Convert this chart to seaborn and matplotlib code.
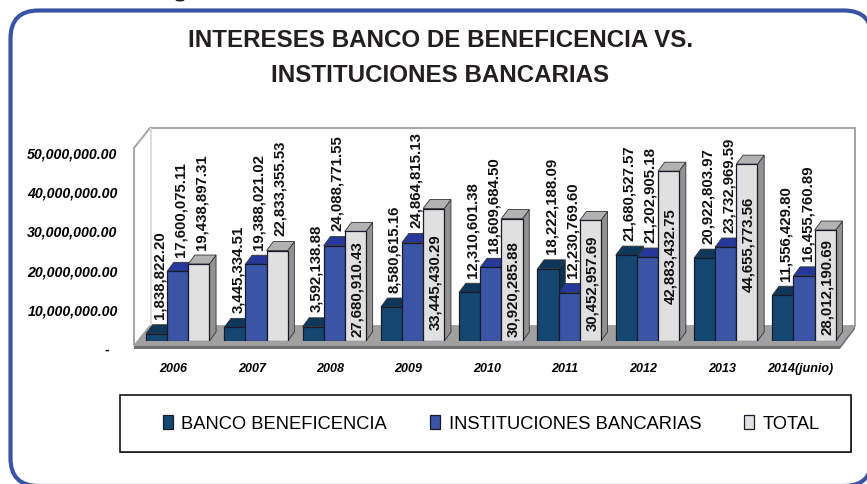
import pandas as pd
import seaborn as sns
import matplotlib
matplotlib.use("Agg")
import matplotlib.pyplot as plt
from matplotlib.patches import Ellipse, FancyBboxPatch, Polygon, Rectangle
from matplotlib.ticker import FuncFormatter
from matplotlib.transforms import ScaledTranslation

W, H = 867, 484

years = ["2006", "2007", "2008", "2009", "2010", "2011", "2012", "2013", "2014(junio)"]
banco = [1838822.20, 3445334.51, 3592138.88, 8580615.16, 12310601.38,
         18222188.09, 21680527.57, 20922803.97, 11556429.80]
instituciones = [17600075.11, 19388021.02, 24088771.55, 24864815.13, 18609684.50,
                 12230769.60, 21202905.18, 23732969.59, 16455760.89]
total = [19438897.31, 22833355.53, 27680910.43, 33445430.29, 30920285.88,
         30452957.69, 42883432.75, 44655773.56, 28012190.69]
series_names = ["BANCO BENEFICENCIA", "INSTITUCIONES BANCARIAS", "TOTAL"]

# colores: frente, tapa, costado
colors = ["#14476F", "#3A55A5", "#E0E0E0"]
top_colors = ["#0F3759", "#26399A", "#B2B2B2"]
side_colors = ["#0C3050", "#2A3E8F", "#929292"]

df = pd.DataFrame({
    "year": years * 3,
    "serie": [s for s in series_names for _ in years],
    "valor": banco + instituciones + total,
})

# el total va dentro de la barra desde 2008, levantado estos pixeles de la base
inside_lift = {2: 4, 3: 11, 4: 4, 5: 10, 6: 37, 7: 49, 8: 6}
DX, DY = 6.7, 9

plt.rcParams["font.family"] = ["Liberation Sans", "DejaVu Sans"]


def box(x0, y0, x1, y1):
    return [x0 / W, 1 - y1 / H, (x1 - x0) / W, (y1 - y0) / H]


fig = plt.figure(figsize=(W / 100, H / 100), dpi=100)

# capa de fondo en pixeles
bg = fig.add_axes([0, 0, 1, 1], zorder=0)
bg.set_xlim(0, W)
bg.set_ylim(H, 0)
bg.axis("off")

bg.add_patch(FancyBboxPatch((10.5, 10.5), 861.5, 475.5, boxstyle="round,pad=0,rounding_size=28",
                            fc="white", ec="#3A53A4", lw=3))
bg.add_patch(Ellipse((180, 0), 9, 3, fc="#231F20", ec="none"))

bg.add_patch(Polygon([(134, 148), (150, 128), (855, 128), (855, 326), (150, 326), (134, 346)],
                     fc="white", ec="#A4A4A4", lw=1.4))
bg.add_patch(Rectangle((150, 128), 2, 198, fc="#DCDCDC", ec="none"))
bg.add_patch(Polygon([(134, 346), (150, 326), (855, 326), (840, 346)], fc="#A0A0A0", ec="none"))
bg.add_patch(Rectangle((134, 346), 706, 3, fc="#6E6E6E", ec="none"))
bg.add_patch(Polygon([(840, 346), (855, 326), (855, 329), (840, 349)], fc="#6E6E6E", ec="none"))

# barras (cara frontal)
ax = fig.add_axes(box(138.5, 123, 843.2, 341), zorder=1)
ax.patch.set_alpha(0)
sns.barplot(data=df, x="year", y="valor", hue="serie", palette=colors, width=0.81, gap=0,
            saturation=1, edgecolor="#1A1A2A", linewidth=0.9, ax=ax)
ax.set_xlim(-0.5, 8.5)
ax.set_ylim(0, 55050000)
ax.set_xlabel("")
ax.set_ylabel("")
ax.set_yticks([])
sns.despine(ax=ax, left=True, bottom=True)
ax.tick_params(axis="x", length=0, pad=15.5)
shift = ScaledTranslation(-4 / 100, 0, fig.dpi_scale_trans)
for lab in ax.get_xticklabels():
    lab.set_fontweight("bold")
    lab.set_fontstyle("italic")
    lab.set_fontsize(9)
    lab.set_transform(lab.get_transform() + shift)

fig.canvas.draw()
to_px = lambda x, y: (ax.transData.transform((x, y))[0],
                      H - ax.transData.transform((x, y))[1])

# caras 3D y etiquetas a partir de las barras
for s, cont in enumerate(ax.containers):
    for i, bar in enumerate(cont):
        x0, ytop = to_px(bar.get_x(), bar.get_height())
        x1, ybase = to_px(bar.get_x() + bar.get_width(), 0)
        bg.add_patch(Polygon([(x1, ytop), (x1 + DX, ytop - DY), (x1 + DX, ybase - DY), (x1, ybase)],
                             fc=side_colors[s], ec="#333333", lw=0.6, zorder=3 + s))
        bg.add_patch(Polygon([(x0, ytop), (x0 + DX, ytop - DY), (x1 + DX, ytop - DY), (x1, ytop)],
                             fc=top_colors[s], ec="#333333", lw=0.6, zorder=3 + s))
        txt = f"{bar.get_height():,.2f}"
        if s == 2 and i in inside_lift:
            lx = (x0 + x1) / 2 + 1.5
            ly = ybase - inside_lift[i]
        else:
            lx = (x0 + x1) / 2 + 3
            ly = ytop - DY - 5.5
        fig.text(lx / W, 1 - ly / H, txt, rotation=90, ha="center", va="bottom", fontsize=10.8,
                 fontweight="bold", color="#111111", zorder=5)

# eje y del plano frontal
yax = fig.add_axes(box(138.5, 153, 843.2, 349), zorder=1)
yax.patch.set_alpha(0)
yax.set_ylim(0, 50000000)
yax.set_xticks([])
yax.set_yticks(range(0, 50000001, 10000000))
yax.yaxis.set_major_formatter(FuncFormatter(lambda v, p: f"{v:,.2f}" if v else "-  "))
yax.tick_params(axis="y", length=0, pad=15)
sns.despine(ax=yax, left=True, bottom=True)
for lab in yax.get_yticklabels():
    lab.set_fontweight("bold")
    lab.set_fontstyle("italic")
    lab.set_fontsize(10.2)

fig.text(440.5 / W, 1 - 58 / H, "INTERESES BANCO DE BENEFICENCIA VS.\nINSTITUCIONES BANCARIAS",
         ha="center", va="center", fontsize=17.4, fontweight="bold", color="#231F20",
         linespacing=1.72, zorder=5)

# leyenda: caja aparte, la leyenda solo lleva las entradas
bg.add_patch(Rectangle((120.6, 396), 731, 57, fc="#999999", ec="none", zorder=6))
bg.add_patch(Rectangle((120, 395), 731, 57, fc="white", ec="black", lw=1.1, zorder=6))
handles, labels = ax.get_legend_handles_labels()
ax.get_legend().remove()
leg = fig.legend(handles, labels, loc="center", bbox_to_anchor=(491.5 / W, 1 - 424 / H), ncols=3,
                 frameon=False, prop={"size": 13.2}, handlelength=0.55, handleheight=0.8,
                 handletextpad=0.45, columnspacing=2.35, borderpad=0, borderaxespad=0)
leg.set_zorder(5)

fig.savefig("out.png", dpi=100)
